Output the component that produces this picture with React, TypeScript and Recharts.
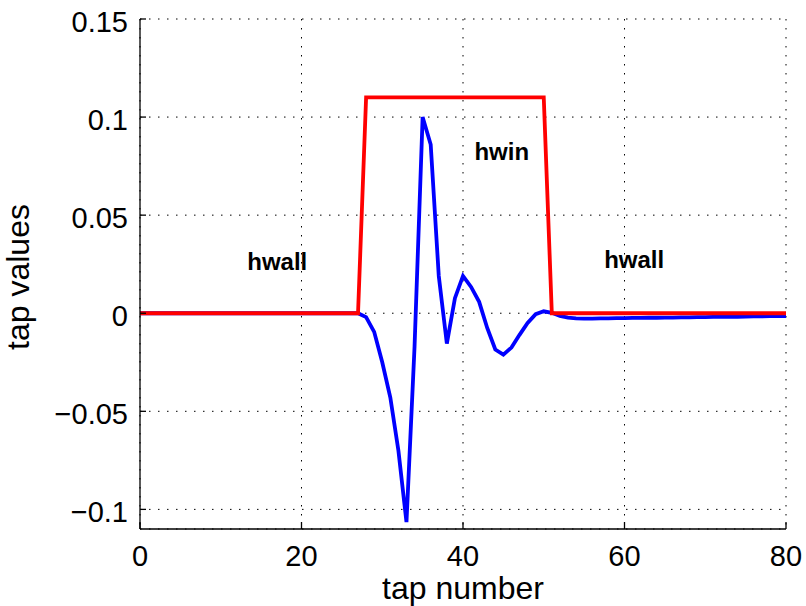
import { LineChart, Line, XAxis, YAxis, CartesianGrid, ReferenceDot } from "recharts"

const taps = Array.from({ length: 81 }, (_, i) => i)

// blue curve: the tap values
const tapValues = [
  0, 0, 0, 0, 0, 0, 0, 0, 0, 0,
  0, 0, 0, 0, 0, 0, 0, 0, 0, 0,
  0, 0, 0, 0, 0, 0, 0, 0, -0.002, -0.0095,
  -0.025, -0.043, -0.07, -0.1065, -0.017, 0.1, 0.086, 0.019, -0.0155, 0.0077,
  0.019, 0.0134, 0.0058, -0.0075, -0.0185, -0.0211, -0.0175, -0.011, -0.005, -0.0005,
  0.001, 0.0002, -0.0014, -0.0022, -0.0026, -0.0027, -0.0027, -0.0026, -0.0026, -0.0025,
  -0.0025, -0.0024, -0.0024, -0.0023, -0.0023, -0.0022, -0.0022, -0.0021, -0.0021, -0.002,
  -0.002, -0.0019, -0.0019, -0.0018, -0.0018, -0.0017, -0.0016, -0.0016, -0.0015, -0.0015,
  -0.0014,
]

// red curve: the window (hwall / hwin)
const windowValues = [
  0, 0, 0, 0, 0, 0, 0, 0, 0, 0,
  0, 0, 0, 0, 0, 0, 0, 0, 0, 0,
  0, 0, 0, 0, 0, 0, 0, 0, 0.11, 0.11,
  0.11, 0.11, 0.11, 0.11, 0.11, 0.11, 0.11, 0.11, 0.11, 0.11,
  0.11, 0.11, 0.11, 0.11, 0.11, 0.11, 0.11, 0.11, 0.11, 0.11,
  0.11, 0, 0, 0, 0, 0, 0, 0, 0, 0,
  0, 0, 0, 0, 0, 0, 0, 0, 0, 0,
  0, 0, 0, 0, 0, 0, 0, 0, 0, 0,
  0,
]

const xTicks = [0, 20, 40, 60, 80]
const yTicks = [-0.1, -0.05, 0, 0.05, 0.1, 0.15]
const yTickLabels = ["\u22120.1", "\u22120.05", "0", "0.05", "0.1", "0.15"]

const notes = [
  { x: 17, y: 0.0265, text: "hwall" },
  { x: 44.8, y: 0.0827, text: "hwin" },
  { x: 61.2, y: 0.0276, text: "hwall" },
]

const data = taps.map((t, i) => ({ tap: t, value: tapValues[i], win: windowValues[i] }))

const FONT = "'Liberation Sans', Arial, sans-serif"

function XTick(props: any) {
  return (
    <text x={props.x} y={props.y + 21} textAnchor="middle" fontSize={29} fontFamily={FONT} fill="#000">
      {props.payload.value}
    </text>
  )
}

function YTick(props: any) {
  const idx = yTicks.indexOf(props.payload.value)
  return (
    <text x={props.x} y={props.y + 13} textAnchor="end" fontSize={29} fontFamily={FONT} fill="#000">
      {idx >= 0 ? yTickLabels[idx] : props.payload.value}
    </text>
  )
}

function NoTick() {
  return <g />
}

export default function App() {
  return (
    <div style={{ position: "absolute", left: 0, top: 0, background: "#fff" }}>
      <LineChart width={806} height={606} data={data} margin={{ top: 19, right: 20, bottom: 0, left: 80 }}>
        <CartesianGrid stroke="#000" strokeDasharray="1.5 7.5" />
        <XAxis
          dataKey="tap"
          type="number"
          domain={[0, 80]}
          ticks={xTicks}
          height={77}
          stroke="#000"
          strokeWidth={1.3}
          tickSize={-7}
          tickMargin={23}
          tick={<XTick />}
          label={({ viewBox }: any) => (
            <text
              x={viewBox.x + viewBox.width / 2}
              y={viewBox.y + 70}
              textAnchor="middle"
              fontSize={32}
              fontFamily={FONT}
              fill="#000"
            >
              tap number
            </text>
          )}
        />
        <XAxis
          xAxisId="top"
          orientation="top"
          dataKey="tap"
          type="number"
          domain={[0, 80]}
          ticks={xTicks}
          height={0}
          stroke="#000"
          strokeWidth={1.3}
          tickSize={-6}
          tick={<NoTick />}
        />
        <YAxis
          type="number"
          domain={[-0.11, 0.15]}
          ticks={yTicks}
          width={60}
          stroke="#000"
          strokeWidth={1.3}
          tickSize={-6}
          tickMargin={18}
          tick={<YTick />}
          label={() => (
            <text
              x={29}
              y={277}
              transform="rotate(-90 29 277)"
              textAnchor="middle"
              fontSize={32}
              fontFamily={FONT}
              fill="#000"
            >
              tap values
            </text>
          )}
        />
        <YAxis
          yAxisId="right"
          orientation="right"
          type="number"
          domain={[-0.11, 0.15]}
          ticks={yTicks}
          width={0}
          stroke="#000"
          strokeWidth={1.3}
          tickSize={-6}
          tick={<NoTick />}
        />
        <Line type="linear" dataKey="value" stroke="#0000ff" strokeWidth={3.8} dot={false} isAnimationActive={false} />
        <Line type="linear" dataKey="win" stroke="#ff0000" strokeWidth={3.8} dot={false} isAnimationActive={false} />
        {notes.map((n, i) => (
          <ReferenceDot
            key={i}
            x={n.x}
            y={n.y}
            r={0}
            fill="none"
            stroke="none"
            label={({ viewBox }: any) => (
              <text
                x={viewBox.x + (viewBox.width || 0) / 2}
                y={viewBox.y + (viewBox.height || 0) / 2 + 9}
                textAnchor="middle"
                fontSize={24}
                fontWeight="bold"
                fontFamily={FONT}
                fill="#000"
              >
                {n.text}
              </text>
            )}
          />
        ))}
      </LineChart>
    </div>
  )
}
